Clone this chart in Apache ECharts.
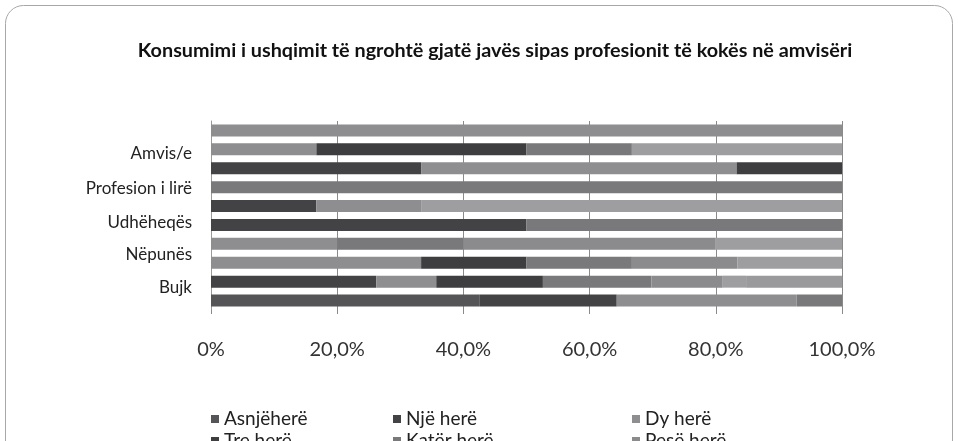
<!DOCTYPE html>
<html>
<head>
<meta charset="utf-8">
<script src="https://cdn.jsdelivr.net/npm/echarts@6/dist/echarts.min.js"></script>
<style>
  html, body { margin: 0; padding: 0; background: #fff; }
  #chart { width: 958px; height: 441px; }
</style>
</head>
<body>
<div id="chart"></div>
<script>
// categories from bottom to top, only every other one carries a visible label
const categories = ["Bujk", "", "Nëpunës", "", "Udhëheqës", "", "Profesion i lirë", "", "Amvis/e", ""];

const seriesNames = ["Asnjëherë", "Një herë", "Dy herë", "Tre herë", "Katër herë", "Pesë herë", "Gjashtë herë", "Shtatë herë"];
const seriesColors = ["#555557", "#434345", "#8e8e90", "#3e3e40", "#79797b", "#8b8b8d", "#9e9ea0", "#9a9a9c"];

// percent shares per category (bottom to top)
const asnjehere = [42.6, 0, 0, 0, 0, 0, 0, 0, 0, 0];
const njeHere = [21.7, 26.2, 0, 0, 50, 16.7, 0, 33.3, 0, 0];
const dyHere = [28.5, 9.5, 33.3, 20, 0, 16.7, 0, 50, 16.7, 100];
const treHere = [0, 16.9, 16.7, 0, 0, 0, 0, 16.7, 33.3, 0];
const katerHere = [7.2, 17.2, 16.7, 20, 50, 0, 100, 0, 16.7, 0];
const peseHere = [0, 11.3, 16.7, 40, 0, 0, 0, 0, 0, 0];
const gjashteHere = [0, 3.7, 16.6, 20, 0, 66.6, 0, 0, 33.3, 0];
const shtateHere = [0, 15.2, 0, 0, 0, 0, 0, 0, 0, 0];

const seriesData = [asnjehere, njeHere, dyHere, treHere, katerHere, peseHere, gjashteHere, shtateHere];

const xTicks = [0, 20, 40, 60, 80, 100];

// small vertical nudges for the category labels (px, negative = up)
const labelShift = { "Bujk": -13, "Nëpunës": -8, "Udhëheqës": -2, "Profesion i lirë": 1, "Amvis/e": 4 };

const font = "Lato";

const chart = echarts.init(document.getElementById("chart"));

const legendBase = {
  orient: "vertical",
  top: 404,
  height: 80,
  icon: "rect",
  itemWidth: 8,
  itemHeight: 8,
  itemGap: 2,
  textStyle: { fontFamily: font, fontSize: 19, color: "#222", lineHeight: 20 },
};

const rich = {};
Object.keys(labelShift).forEach((k, i) => {
  const d = labelShift[k];
  rich["l" + i] = {
    fontFamily: font,
    fontSize: 17,
    color: "#222",
    padding: d < 0 ? [0, 0, -2 * d, 0] : [2 * d, 0, 0, 0],
  };
});

const options = {
  animation: false,
  backgroundColor: "#fff",
  title: {
    text: "Konsumimi i ushqimit të ngrohtë gjatë javës sipas profesionit të kokës në amvisëri",
    left: 490,
    textAlign: "center",
    top: 36,
    textStyle: { fontFamily: font, fontSize: 19.8, fontWeight: "bold", color: "#111" },
  },
  graphic: [
    {
      type: "rect",
      shape: { x: 5.5, y: 5.5, width: 947, height: 600, r: 18 },
      style: { fill: "none", stroke: "#a8a8a8", lineWidth: 1 },
      silent: true,
    },
  ],
  legend: [
    Object.assign({}, legendBase, { left: 206, data: ["Asnjëherë", "Tre herë", "Gjashtë herë"] }),
    Object.assign({}, legendBase, { left: 388, data: ["Një herë", "Katër herë", "Shtatë herë"] }),
    Object.assign({}, legendBase, { left: 627, data: ["Dy herë", "Pesë herë"] }),
  ],
  grid: {
    left: 211,
    right: 116,
    top: 121,
    height: 189,
  },
  xAxis: {
    type: "value",
    min: 0,
    max: 100,
    interval: 20,
    axisLine: { show: false },
    axisTick: { show: true, length: 4, lineStyle: { color: "#8a8a8a" } },
    splitLine: { show: true, lineStyle: { color: "#8a8a8a", width: 1 } },
    axisLabel: {
      margin: 30,
      fontFamily: font,
      fontSize: 20,
      color: "#333",
      formatter: (v) => (xTicks.indexOf(v) === 0 ? "0%" : v.toFixed(1).replace(".", ",") + "%"),
    },
  },
  yAxis: {
    type: "category",
    data: categories,
    axisLine: { show: true, lineStyle: { color: "#9a9a9a" } },
    axisTick: { show: false },
    axisLabel: {
      interval: 0,
      margin: 19,
      fontFamily: font,
      fontSize: 17,
      color: "#222",
      rich: rich,
      formatter: (v) => {
        const i = Object.keys(labelShift).indexOf(v);
        return i < 0 ? v : "{l" + i + "|" + v + "}";
      },
    },
  },
  series: seriesNames.map((name, i) => ({
    name: name,
    type: "bar",
    stack: "total",
    barWidth: 12,
    color: seriesColors[i],
    data: seriesData[i],
  })),
};

chart.setOption(options);
</script>
</body>
</html>
